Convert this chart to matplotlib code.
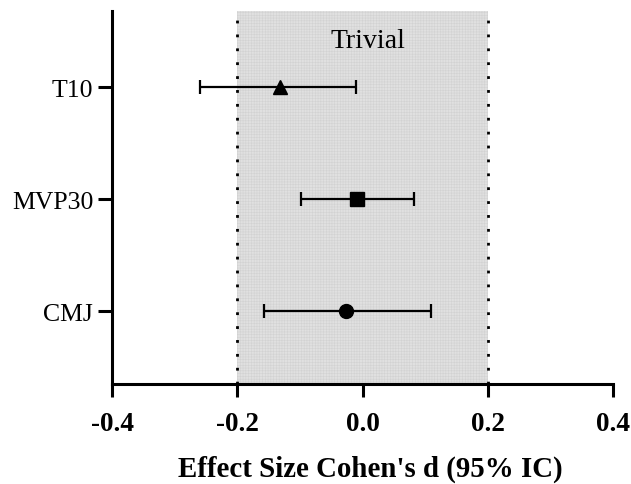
import matplotlib
matplotlib.use("Agg")
import matplotlib.pyplot as plt

categories = ["CMJ", "MVP30", "T10"]
effect = [-0.026, -0.008, -0.132]
ci_low = [-0.158, -0.099, -0.259]
ci_high = [0.110, 0.083, -0.010]
markers = ["o", "s", "^"]
xticks = [-0.4, -0.2, 0.0, 0.2, 0.4]
xtick_labels = ["-0.4", "-0.2", "0.0", "0.2", "0.4"]

plt.rcParams['font.family'] = ['Liberation Serif', 'DejaVu Serif']
plt.rcParams['hatch.linewidth'] = 0.4

fig = plt.figure(figsize=(6.31, 4.85), dpi=100)
ax = fig.add_axes([0.1775, 0.206, 0.794, 0.769])

ax.axvspan(-0.2, 0.2, facecolor='#e0e0e0', edgecolor='#d2d2d2', hatch='++++++', linewidth=0, zorder=0)
ax.axvline(-0.2, color='black', linestyle=(0, (1, 4)), linewidth=2, zorder=1)
ax.axvline(0.2, color='black', linestyle=(0, (1, 4)), linewidth=2, zorder=1)

for i, (cat, e, lo, hi, m) in enumerate(zip(categories, effect, ci_low, ci_high, markers)):
    y = i + 1
    ax.errorbar(e, y, xerr=[[e - lo], [hi - e]], fmt=m, color='black', ecolor='black',
                elinewidth=1.6, capsize=5, capthick=1.6, markersize=10, zorder=3)

ax.text(0.008, 3.42, "Trivial", ha='center', va='center', fontsize=20)

ax.set_xlim(-0.4, 0.4)
ax.set_ylim(0.348, 3.68)
ax.set_xticks(xticks)
ax.set_xticklabels(xtick_labels, fontsize=19.5, fontweight='bold')
ax.set_yticks([1, 2, 3])
ax.set_yticklabels(categories, fontsize=18.5)
ax.set_xlabel("Effect Size Cohen's d (95% IC)", fontsize=20.8, fontweight='bold', labelpad=14)
ax.xaxis.set_label_coords(0.515, -0.19)

for s in ['top', 'right']:
    ax.spines[s].set_visible(False)
for s in ['left', 'bottom']:
    ax.spines[s].set_linewidth(2.2)
ax.tick_params(axis='x', direction='out', length=9.5, width=2.2, pad=10)
ax.tick_params(axis='y', direction='out', length=10, width=2.2, pad=3.5)

fig.savefig("out.png", dpi=100)
